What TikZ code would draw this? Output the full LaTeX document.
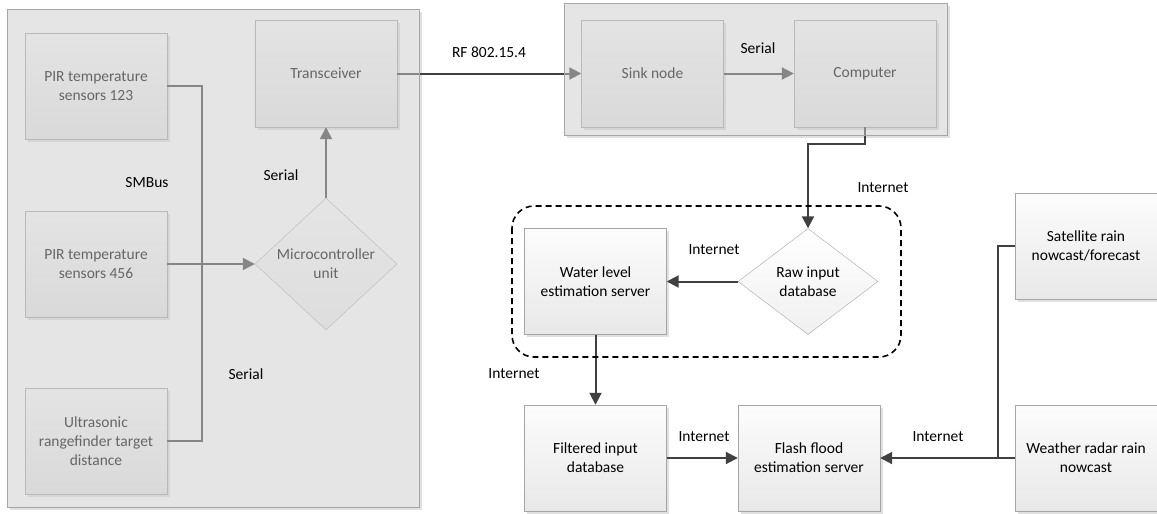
\documentclass[tikz,border=0pt]{standalone}
\usepackage{fontspec}
\setmainfont{Carlito}
\usetikzlibrary{shapes.geometric,arrows.meta,shadows}
\pgfdeclarelayer{base}
\pgfdeclarelayer{veil}
\pgfsetlayers{base,main,veil}
\definecolor{wire}{HTML}{404040}
\definecolor{rim}{HTML}{A6A6A6}

\begin{document}
\begin{tikzpicture}[x=1pt,y=-1pt]
		\tikzset{
			every node/.style = {font=\fontsize{15.5}{19}\selectfont},
			unit/.style = {rectangle, draw=rim, top color=black!1, bottom color=black!9,
				minimum width=142pt, minimum height=106pt, inner sep=0pt, align=center,
				drop shadow={shadow xshift=2.5pt, shadow yshift=-2.5pt, fill=black!12, opacity=1}},
			choice/.style = {diamond, draw=rim, top color=white, bottom color=black!6,
				inner sep=0pt, align=center},
			link/.style = {draw=wire, line width=2pt},
			arrow/.style = {link, -{Triangle[length=12pt,width=12pt]}},
			frame/.style = {draw=rim, fill=black!20, fill opacity=0.5}
		}
		\useasboundingbox (0,0) rectangle (1157,514);
		% sensor board
		\node [unit] (pir1) at (96,86) {PIR temperature\\sensors 123};
		\node [unit] (pir2) at (96,264) {PIR temperature\\sensors 456};
		\node [unit] (ultra) at (96,441) {Ultrasonic\\rangefinder target\\distance};
		\node [unit, minimum height=107pt] (trans) at (326,73.5) {Transceiver};
		\node [choice, minimum width=142pt, minimum height=132pt] (mcu) at (326,264) {Microcontroller\\unit};
		% base station
		\node [unit, minimum height=107pt] (sink) at (652.5,73.5) {Sink node};
		\node [unit, minimum height=107pt] (comp) at (865,73.5) {Computer};
		% servers
		\node [choice, minimum width=140pt, minimum height=106pt] (raw) at (808,281.5) {Raw input\\database};
		\node [unit] (water) at (595.5,281.5) {Water level\\estimation server};
		\node [unit] (filt) at (595.5,458) {Filtered input\\database};
		\node [unit] (flash) at (809,458) {Flash flood\\estimation server};
		\node [unit] (sat) at (1086,246) {Satellite rain\\nowcast/forecast};
		\node [unit] (radar) at (1086,458) {Weather radar rain\\nowcast};
		\coordinate (join) at (998,458);

		\draw [link] (pir1.east) -- ++(35,0) |- (ultra.east);
		\draw [arrow] (pir2) -- (mcu);
		\draw [arrow] (mcu.north) -- (trans.south);
		\draw [arrow] (trans) -- (sink);
		\draw [arrow] (sink) -- (comp);
		\draw [arrow] (comp.south) -- ++(0,17) -| (raw.north);
		\draw [arrow] (raw.west) -- (water.east);
		\draw [arrow] (water.south) -- (filt.north);
		\draw [arrow] (filt) -- (flash);
		\draw [arrow] (radar.west) -- (flash.east);
		\draw [link] (sat.west) -| (join);
		\draw [black, line width=1.6pt, dash pattern=on 6pt off 4pt, rounded corners=22pt] (512,206) rectangle (901,357);

		\begin{pgfonlayer}{base}
			\fill [black!12] (10,12) rectangle (422,510);
			\fill [white] (7,9) rectangle (419,507);
			\fill [black!12] (567,6) rectangle (950,138);
			\fill [white] (564,3) rectangle (947,135);
		\end{pgfonlayer}
		\begin{pgfonlayer}{veil}
			\filldraw [frame] (7,9) rectangle (419,507);
			\filldraw [frame] (564,3) rectangle (947,135);
			\node (smbus) at (147,183) {SMBus};
			\node (ser1) at (281,175) {Serial};
			\node (ser2) at (246,374) {Serial};
			\node (rf) at (489,52) {RF 802.15.4};
			\node (ser3) at (758,48) {Serial};
			\node (net1) at (883,188) {Internet};
			\node (net2) at (714,250) {Internet};
			\node (net3) at (514,374) {Internet};
			\node (net4) at (704,437) {Internet};
			\node (net5) at (938,437) {Internet};
		\end{pgfonlayer}
\end{tikzpicture}
\end{document}
